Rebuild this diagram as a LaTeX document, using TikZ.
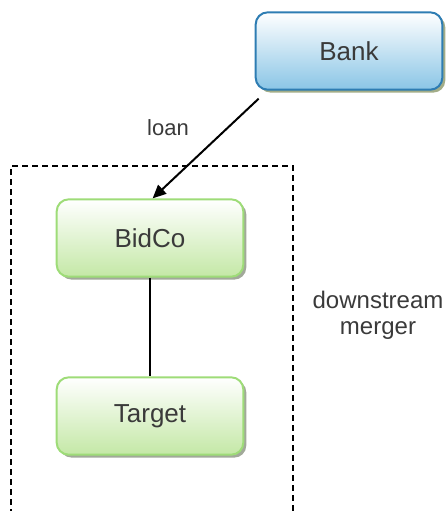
\documentclass[tikz,border=0pt]{standalone}
\usepackage{fontspec}
\setmainfont{Liberation Sans}
\usetikzlibrary{positioning}
\usetikzlibrary{arrows.meta}
\usetikzlibrary{shadows}
\definecolor{bankline}{HTML}{2E7DB3}
\definecolor{bankfill}{HTML}{8AC5E6}
\definecolor{bankshadow}{HTML}{A3AD88}
\definecolor{coline}{HTML}{9EDC78}
\definecolor{cofill}{HTML}{C4E8A6}
\definecolor{coshadow}{HTML}{A2A99A}
\definecolor{labelc}{HTML}{3A3A3A}

\tikzset{
  entity/.style={draw, rounded corners=9pt, line width=1.5pt,
    minimum width=140pt, minimum height=58pt, text=labelc,
    font=\fontsize{19.5}{22}\selectfont},
  bankbox/.style={entity, draw=bankline, top color=white, bottom color=bankfill,
    drop shadow={shadow xshift=2.2pt, shadow yshift=-2.2pt, fill=bankshadow, opacity=1}},
  cobox/.style={entity, draw=coline, top color=white, bottom color=cofill,
    drop shadow={shadow xshift=2.2pt, shadow yshift=-2.2pt, fill=coshadow, opacity=1}},
  sidelabel/.style={text=labelc, font=\fontsize{18}{19.5}\selectfont, align=center},
  mergerbox/.style={line width=1.1pt, dash pattern=on 4.5pt off 3pt},
}

\begin{document}
\begin{tikzpicture}[x=0.75pt,y=0.75pt]
        \useasboundingbox (0,0) rectangle (446,-511);

        % companies
        \node[bankbox] (bank) at (349,-51) {Bank};
        \node[cobox] (bidco) at (150,-238) {BidCo};
        \node[cobox, below=74pt of bidco] (target) {Target};

        % merger area, open at the bottom
        \draw[mergerbox] (11,-515) |- (293,-166) -- (293,-515);

        % loan from the bank
        \coordinate (loanstart) at ([xshift=3pt,yshift=-6pt]bank.south west);
        \draw[line width=1.5pt, -{Triangle[length=10pt,width=9pt]}]
              (loanstart) -- ([xshift=2pt]bidco.north);
        \draw[line width=0.9pt] (bidco) -- (target);

        \node[sidelabel, font=\fontsize{16.5}{19}\selectfont] (loan) at (168,-128) {loan};
        \node[sidelabel] (merger) at (378,-315) {downstream\\merger};

        \end{tikzpicture}
\end{document}
